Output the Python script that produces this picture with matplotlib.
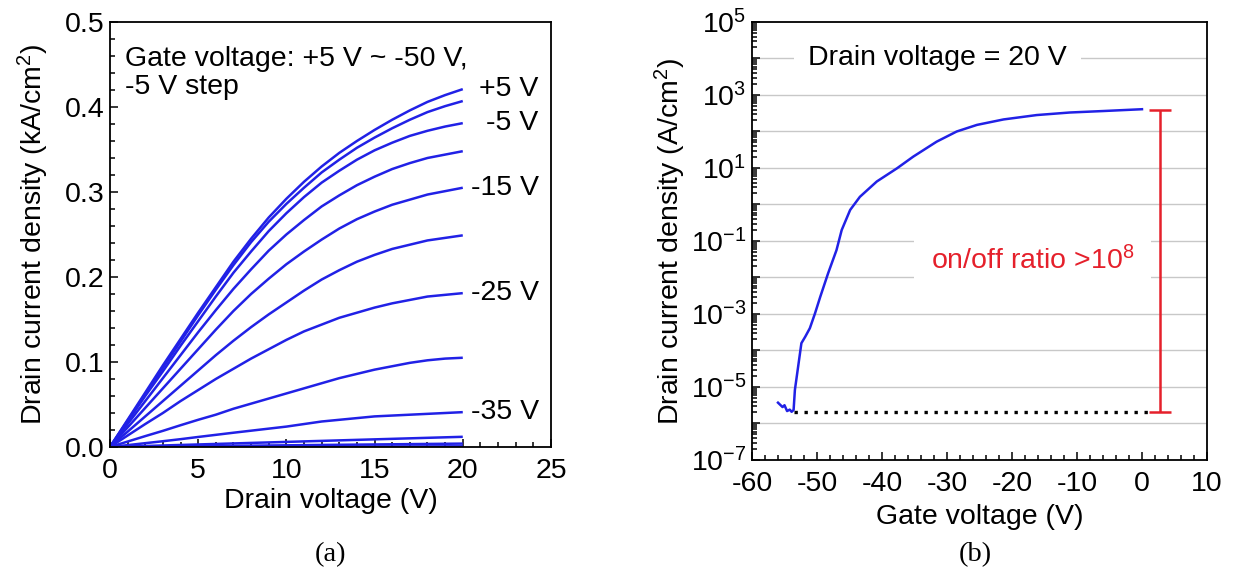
import matplotlib
matplotlib.use("Agg")
import matplotlib.pyplot as plt
from matplotlib.ticker import MultipleLocator, LogLocator, FuncFormatter, NullFormatter
import numpy as np

plt.rcParams['font.family'] = ['Liberation Sans', 'DejaVu Sans']
plt.rcParams['mathtext.fontset'] = 'custom'
plt.rcParams['mathtext.rm'] = 'Liberation Sans'
plt.rcParams['mathtext.it'] = 'Liberation Sans:italic'
plt.rcParams['mathtext.bf'] = 'Liberation Sans:bold'
plt.rcParams['axes.unicode_minus'] = False

FS = 20.5

# (a) output curves, gate voltage +5 V ... -50 V (values in kA/cm2)
drain_v = list(range(0, 21))
gate_steps = [5, 0, -5, -10, -15, -20, -25, -30, -35, -40, -45, -50]
out_curves = [
    [0, .032, .064, .096, .127, .158, .188, .218, .245, .270, .292,
     .312, .330, .346, .360, .373, .385, .396, .406, .414, .421],
    [0, .031, .062, .093, .124, .155, .185, .214, .241, .265, .286,
     .305, .323, .338, .352, .364, .375, .385, .394, .401, .407],
    [0, .030, .060, .089, .119, .148, .177, .205, .230, .254, .275,
     .294, .311, .325, .338, .349, .358, .366, .372, .377, .381],
    [0, .027, .054, .081, .108, .135, .161, .186, .209, .231, .250,
     .267, .283, .296, .308, .318, .327, .334, .340, .344, .348],
    [0, .023, .046, .069, .092, .115, .138, .160, .180, .198, .215,
     .230, .244, .257, .268, .277, .285, .291, .297, .301, .305],
    [0, .018, .036, .054, .072, .090, .108, .125, .141, .156, .170,
     .184, .197, .208, .218, .226, .233, .238, .243, .246, .249],
    [0, .0135, .027, .040, .054, .067, .080, .092, .104, .115, .126,
     .136, .144, .152, .158, .164, .169, .173, .177, .179, .181],
    [0, .0064, .0128, .019, .0256, .032, .038, .045, .051, .057, .063,
     .069, .075, .081, .086, .091, .095, .099, .102, .104, .105],
    [0, .0022, .0045, .0068, .0092, .0118, .0143, .0168, .0192, .0216, .024,
     .027, .030, .032, .034, .036, .037, .038, .039, .040, .041],
    [0, .0006, .0012, .0018, .0024, .0030, .0036, .0042, .0048, .0054, .0060,
     .0066, .0072, .0078, .0084, .0090, .0096, .0102, .0108, .0114, .0120],
    [0, .0002, .0004, .0006, .0008, .0010, .0012, .0014, .0016, .0018, .0020,
     .0022, .0024, .0026, .0028, .0030, .0032, .0034, .0036, .0038, .0040],
    [0, .00004, .00008, .00012, .00016, .0002, .00024, .00028, .00032, .00036, .0004,
     .00044, .00048, .00052, .00056, .0006, .00064, .00068, .00072, .00076, .0008],
]
curve_labels = {5: '+5 V', -5: '-5 V', -15: '-15 V', -25: '-25 V', -35: '-35 V'}

# (b) transfer curve, drain voltage 20 V (log10 of A/cm2)
gate_v = [-56.0, -55.3, -55.0, -54.6, -54.2, -53.9, -53.6, -53.4, -52.9, -52.4,
          -51.8, -51.1, -50.3, -49.5, -48.3, -47.0, -46.2, -44.9, -43.4, -40.8,
          -37.7, -35.2, -31.6, -28.5, -25.4, -21.3, -16.2, -11.1, -6.0, 0.0]
log_j = [-5.43, -5.55, -5.50, -5.66, -5.62, -5.68, -5.63, -5.08, -4.44, -3.80,
         -3.62, -3.39, -2.98, -2.53, -1.89, -1.25, -0.70, -0.15, 0.21, 0.63,
         0.99, 1.31, 1.72, 2.00, 2.18, 2.33, 2.45, 2.52, 2.56, 2.61]
off_level = 2.1e-6
on_level = 3.9e2
ratio_x = 2.8

blue = '#2121e6'
red = '#e5202b'

fig = plt.figure(figsize=(12.34, 5.77), dpi=100)
ax1 = fig.add_axes([0.0891, 0.2253, 0.3574, 0.7366])
ax2 = fig.add_axes([0.6094, 0.2028, 0.3687, 0.7591])

for vg, ys in zip(gate_steps, out_curves):
    ax1.plot(drain_v, ys, color=blue, lw=1.8, solid_capstyle='butt')
    if vg in curve_labels:
        ax1.text(24.3, ys[-1], curve_labels[vg], ha='right', va='center', fontsize=FS)

ax1.text(0.85, 0.472, 'Gate voltage: +5 V ~ -50 V,\n-5 V step', ha='left', va='top',
         fontsize=FS, linespacing=1.12)
ax1.set_xlim(0, 25)
ax1.set_ylim(0, 0.5)
ax1.xaxis.set_major_locator(MultipleLocator(5))
ax1.xaxis.set_minor_locator(MultipleLocator(1))
ax1.yaxis.set_major_locator(MultipleLocator(0.1))
ax1.yaxis.set_minor_locator(MultipleLocator(0.02))
ax1.yaxis.set_major_formatter(FuncFormatter(lambda v, p: f'{v:.1f}'))
ax1.set_xlabel('Drain voltage (V)', fontsize=FS, labelpad=3)
ax1.set_ylabel('Drain current density (kA/cm$^2$)', fontsize=FS, labelpad=10)

# transfer panel
for e in range(-6, 5):
    ax2.axhline(10.0 ** e, color='#c8c8c8', lw=1.0, zorder=0)
ax2.plot(gate_v, [10.0 ** v for v in log_j], color=blue, lw=1.8, zorder=3)
ax2.plot([gate_v[6], 1.0], [off_level, off_level], color='black', lw=2.4,
         linestyle=(0, (1, 2)), zorder=3)
mid = np.sqrt(on_level * off_level)
ax2.errorbar([ratio_x], [mid], yerr=[[mid - off_level], [on_level - mid]],
             color=red, lw=1.8, capsize=8, capthick=1.8, zorder=3)
ax2.text(-31.5, 10 ** 4, 'Drain voltage = 20 V', ha='center', va='center', fontsize=FS,
         bbox=dict(facecolor='white', edgecolor='none', pad=10), zorder=4)
ax2.text(-16.8, 10 ** -1.55, 'on/off ratio >10$^8$', ha='center', va='center',
         fontsize=FS, color=red,
         bbox=dict(facecolor='white', edgecolor='none', pad=12), zorder=4)

ax2.set_yscale('log')
ax2.set_xlim(-60, 10)
ax2.set_ylim(1e-7, 1e5)
ax2.xaxis.set_major_locator(MultipleLocator(10))
ax2.xaxis.set_minor_locator(MultipleLocator(2))
ax2.yaxis.set_major_locator(LogLocator(base=10, numticks=30))
ax2.yaxis.set_minor_locator(LogLocator(base=10, subs=np.arange(2, 10), numticks=30))
ax2.yaxis.set_minor_formatter(NullFormatter())


def odd_decade(v, p):
    e = int(round(np.log10(v)))
    return f'10$^{{{e}}}$' if e % 2 else ''


ax2.yaxis.set_major_formatter(FuncFormatter(odd_decade))
ax2.set_xlabel('Gate voltage (V)', fontsize=FS, labelpad=5)
ax2.set_ylabel('Drain current density (A/cm$^2$)', fontsize=FS, labelpad=2)

for ax in (ax1, ax2):
    for s in ax.spines.values():
        s.set_linewidth(1.3)
    ax.tick_params(which='both', direction='in', top=False, right=False,
                   labelsize=FS, width=1.1)
    ax.tick_params(which='major', length=6)
    ax.tick_params(which='minor', length=3.5)
    ax.tick_params(axis='x', which='major', pad=8)
    ax.tick_params(axis='y', which='major', pad=4)

fig.text(0.2678, 0.038, '(a)', ha='center', va='center', fontsize=FS,
         family=['Liberation Serif', 'DejaVu Serif'])
fig.text(0.790, 0.038, '(b)', ha='center', va='center', fontsize=FS,
         family=['Liberation Serif', 'DejaVu Serif'])

fig.savefig('out.png', dpi=100)
